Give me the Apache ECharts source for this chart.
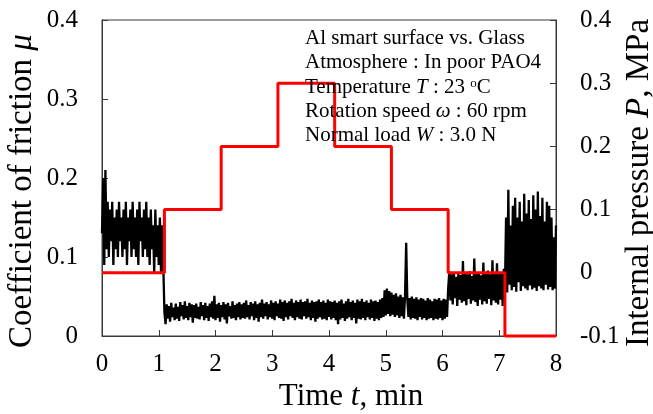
<!DOCTYPE html>
<html>
<head>
<meta charset="utf-8">
<script src="https://cdn.jsdelivr.net/npm/echarts@6/dist/echarts.min.js"></script>
<style>html,body{margin:0;padding:0;background:#fff;}#c{width:653px;height:414px;}</style>
</head>
<body>
<div id="c"></div>
<script>
// Time step between friction samples (min)
var frictionStep = 0.02;
// Coefficient of friction (t = 0 ... 8 min)
var frictionA = [ // 0 - 1.08 min
0.13,0.20,0.09,0.21,0.11,0.17,0.10,0.16,0.12,0.17,
0.09,0.15,0.11,0.16,0.10,0.17,0.12,0.15,0.10,0.16,
0.11,0.17,0.09,0.15,0.12,0.16,0.10,0.17,0.11,0.15,
0.10,0.16,0.09,0.17,0.12,0.15,0.10,0.16,0.11,0.17,
0.10,0.15,0.09,0.16,0.11,0.14,0.08,0.16,0.10,0.14,
0.09,0.15,0.08,0.14,0.09];
var frictionB = [ // 1.10 - 6.08 min
0.030,0.015,0.040,0.022,0.038,0.018,0.042,0.024,0.036,0.020,
0.041,0.022,0.037,0.019,0.043,0.025,0.039,0.021,0.044,0.023,
0.038,0.020,0.042,0.024,0.040,0.017,0.039,0.023,0.041,0.022,
0.037,0.021,0.043,0.025,0.039,0.020,0.042,0.023,0.038,0.019,
0.041,0.024,0.044,0.022,0.051,0.020,0.040,0.023,0.042,0.018,
0.039,0.024,0.043,0.021,0.040,0.016,0.042,0.025,0.038,0.022,
0.044,0.023,0.039,0.020,0.041,0.024,0.043,0.021,0.040,0.023,
0.042,0.022,0.045,0.024,0.039,0.021,0.043,0.025,0.041,0.020,
0.044,0.023,0.040,0.018,0.042,0.024,0.046,0.022,0.041,0.025,
0.043,0.021,0.040,0.024,0.045,0.022,0.042,0.020,0.044,0.025,
0.041,0.023,0.046,0.022,0.043,0.019,0.045,0.024,0.042,0.021,
0.044,0.025,0.047,0.023,0.042,0.020,0.045,0.024,0.043,0.022,
0.046,0.021,0.043,0.025,0.044,0.022,0.047,0.024,0.042,0.020,
0.045,0.023,0.043,0.018,0.044,0.022,0.046,0.024,0.043,0.021,
0.045,0.022,0.042,0.020,0.046,0.024,0.044,0.021,0.043,0.023,
0.045,0.020,0.042,0.015,0.044,0.021,0.046,0.023,0.041,0.019,
0.044,0.022,0.047,0.024,0.043,0.020,0.045,0.023,0.042,0.016,
0.046,0.022,0.044,0.021,0.047,0.023,0.043,0.020,0.045,0.024,
0.042,0.021,0.046,0.023,0.044,0.019,0.045,0.022,0.043,0.020,
0.046,0.023,0.048,0.024,0.058,0.026,0.060,0.028,0.057,0.025,
0.055,0.027,0.052,0.024,0.054,0.026,0.050,0.023,0.052,0.025,
0.049,0.022,0.051,0.118,0.046,0.024,0.048,0.021,0.050,0.023,
0.047,0.022,0.049,0.020,0.046,0.024,0.048,0.021,0.047,0.023,
0.045,0.020,0.048,0.022,0.046,0.023,0.044,0.020,0.047,0.022,
0.046,0.021,0.048,0.023,0.045,0.020,0.047,0.022,0.046,0.024];
var frictionC = [ // 6.10 - 7.08 min
0.060,0.082,0.045,0.078,0.040,0.080,0.048,0.075,0.038,0.079,
0.046,0.077,0.042,0.095,0.044,0.080,0.039,0.078,0.047,0.082,
0.041,0.076,0.045,0.098,0.043,0.079,0.038,0.081,0.046,0.077,
0.040,0.093,0.044,0.079,0.041,0.083,0.047,0.078,0.039,0.096,
0.045,0.080,0.042,0.092,0.040,0.079,0.046,0.081,0.038,0.085];
var frictionD = [ // 7.10 - 8.00 min
0.060,0.150,0.055,0.185,0.065,0.140,0.058,0.165,0.062,0.175,
0.056,0.150,0.068,0.170,0.057,0.145,0.063,0.180,0.060,0.155,
0.058,0.172,0.064,0.148,0.059,0.178,0.061,0.160,0.057,0.183,
0.063,0.152,0.060,0.175,0.058,0.145,0.065,0.170,0.059,0.165,
0.062,0.150,0.058,0.125,0.060,0.140];

// Internal pressure steps (MPa): level starting at each time
var pressureTimes  = [0, 1.1, 2.1, 3.1, 4.1, 5.1, 6.1, 7.1, 8];
var pressureLevels = [0, 0.1, 0.2, 0.3, 0.2, 0.1, 0, -0.1, -0.1];

var xTicks = [0,1,2,3,4,5,6,7,8];

var friction = frictionA.concat(frictionB, frictionC, frictionD);
var frictionData = friction.map(function(v, i){ return [+(i*frictionStep).toFixed(2), v]; });
var pressureData = pressureTimes.map(function(t, i){ return [t, pressureLevels[i]]; });

var FONT = '"Liberation Serif","Times New Roman",serif';
var axisColor = '#3a3a3a';

var chart = echarts.init(document.getElementById('c'), null, {renderer:'canvas'});
chart.setOption({
  animation: false,
  backgroundColor: '#fff',
  grid: {left: 102, right: 97, top: 20, bottom: 78, show: true, borderColor: axisColor, borderWidth: 1},
  xAxis: {
    type: 'value', min: 0, max: 8, interval: 1,
    axisLine: {lineStyle: {color: axisColor, width: 1}},
    axisTick: {inside: true, length: 6, lineStyle: {color: axisColor}},
    axisLabel: {margin: 16, color: '#000', fontFamily: FONT, fontSize: 25,
      formatter: function(v){ return xTicks.indexOf(v) >= 0 ? String(v) : ''; }},
    splitLine: {show: false}
  },
  yAxis: [{
    type: 'value', min: 0, max: 0.4, interval: 0.1, position: 'left',
    axisLine: {show: true, lineStyle: {color: axisColor}},
    axisTick: {show: true, inside: true, length: 6, lineStyle: {color: axisColor}},
    axisLabel: {margin: 24, color: '#000', fontFamily: FONT, fontSize: 25,
      formatter: function(v){ var r = Math.round(v*10)/10; return r === 0 ? '0' : r.toFixed(1); }},
    splitLine: {show: false}
  }, {
    type: 'value', min: -0.1, max: 0.4, interval: 0.1, position: 'right',
    axisLine: {show: true, lineStyle: {color: axisColor}},
    axisTick: {show: true, inside: true, length: 6, lineStyle: {color: axisColor}},
    axisLabel: {margin: 24, color: '#000', fontFamily: FONT, fontSize: 25,
      formatter: function(v){ var r = Math.round(v*10)/10; return r === 0 ? '0' : r.toFixed(1); }},
    splitLine: {show: false}
  }],
  series: [{
    type: 'line', name: 'mu', xAxisIndex: 0, yAxisIndex: 0,
    data: frictionData, showSymbol: false, symbol: 'none',
    lineStyle: {color: '#000', width: 2.3, join: 'bevel'}, z: 2
  }, {
    type: 'line', name: 'P', xAxisIndex: 0, yAxisIndex: 1,
    data: pressureData, step: 'end', showSymbol: false, symbol: 'none', clip: false,
    lineStyle: {color: '#ff0000', width: 3}, z: 3
  }],
  graphic: [
    {type: 'text', left: 305, top: 28, style: {text: 'Al smart surface vs. Glass', font: '21px ' + FONT, fill: '#000'}, z: 10},
    {type: 'text', left: 305, top: 52, style: {text: 'Atmosphere : In poor PAO4', font: '21px ' + FONT, fill: '#000'}, z: 10},
    {type: 'text', left: 305, top: 77, style: {text: 'Temperature {i|T} : 23 {s|o}C', font: '21px ' + FONT, fill: '#000',
      rich: {i: {fontStyle: 'italic', fontFamily: FONT, fontSize: 21}, s: {fontSize: 13, fontFamily: FONT, verticalAlign: 'top', padding: [0,0,8,0]}}}, z: 10},
    {type: 'text', left: 305, top: 101, style: {text: 'Rotation speed {i|\u03c9} : 60 rpm', font: '21px ' + FONT, fill: '#000',
      rich: {i: {fontStyle: 'italic', fontFamily: FONT, fontSize: 21}}}, z: 10},
    {type: 'text', left: 305, top: 125, style: {text: 'Normal load {i|W} : 3.0 N', font: '21px ' + FONT, fill: '#000',
      rich: {i: {fontStyle: 'italic', fontFamily: FONT, fontSize: 21}}}, z: 10},
    {type: 'text', x: 351, y: 397, style: {text: 'Time {i|t}, min', font: '31px ' + FONT, fill: '#000', align: 'center', verticalAlign: 'middle',
      rich: {i: {fontStyle: 'italic', fontFamily: FONT, fontSize: 31}}}, z: 10},
    {type: 'text', x: 22, y: 191, rotation: Math.PI/2, style: {text: 'Coefficient of friction {i|\u03bc}', font: '33px ' + FONT, fill: '#000', align: 'center', verticalAlign: 'middle',
      rich: {i: {fontStyle: 'italic', fontFamily: FONT, fontSize: 33}}}, z: 10},
    {type: 'text', x: 639, y: 183, rotation: Math.PI/2, style: {text: 'Internal pressure {i|P}, MPa', font: '33px ' + FONT, fill: '#000', align: 'center', verticalAlign: 'middle',
      rich: {i: {fontStyle: 'italic', fontFamily: FONT, fontSize: 33}}}, z: 10}
  ]
});
</script>
</body>
</html>
